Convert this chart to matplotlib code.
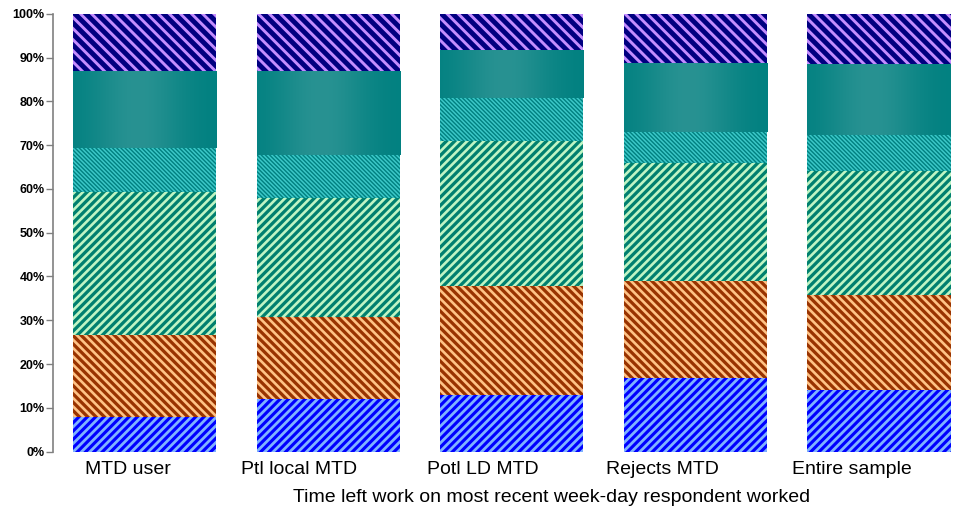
import matplotlib
matplotlib.use('Agg')
import matplotlib.pyplot as plt
import numpy as np
from matplotlib.ticker import PercentFormatter

plt.rcParams['font.family'] = ['Liberation Sans', 'DejaVu Sans']

groups = ['MTD user', 'Ptl local MTD', 'Potl LD MTD', 'Rejects MTD', 'Entire sample']

# share of respondents in each time band (percent), bottom band first
band_1 = [7.9, 12.0, 12.9, 16.9, 14.1]
band_2 = [18.7, 18.7, 25.0, 22.1, 21.6]
band_3 = [32.7, 27.2, 33.1, 26.9, 28.5]
band_4 = [10.1, 9.9, 9.8, 7.1, 8.1]
band_5 = [17.6, 19.2, 11.0, 15.8, 16.3]
band_6 = [13.0, 13.0, 8.2, 11.2, 11.4]

bands = [band_1, band_2, band_3, band_4, band_5, band_6]

# (face colour, stripe colour, hatch, stripe width in pt)
styles = [
    ('#0000ff', '#7fb2ff', '////', 2.0),
    ('#993300', '#ffc285', '\\\\\\\\', 1.9),
    ('#00806f', '#bff5c4', '////', 1.9),
    ('#008080', '#3cc8c8', '\\' * 8, 1.1),
    ('#1a8a8a', '#1a8a8a', None, 0.0),
    ('#000080', '#c48cff', '\\\\\\', 2.1),
]


def with_hatch_width(draw, lw):
    # older versions read the hatch line width from rcParams at draw time
    def _draw(renderer):
        with plt.rc_context({'hatch.linewidth': lw}):
            draw(renderer)
    return _draw


fig = plt.figure(figsize=(9.55, 5.12), dpi=100)
ax = fig.add_axes([53 / 955, 0.118, 1 - 53 / 955, 0.855])

x = np.arange(len(groups))
bottom = np.zeros(len(groups))
containers = []
for vals, (face, stripe, hatch, hlw) in zip(bands, styles):
    vals = np.asarray(vals)
    lw = max(hlw, 0.1)
    with plt.rc_context({'hatch.linewidth': lw}):
        bars = ax.bar(x, vals, width=0.78, bottom=bottom, color=face,
                      edgecolor=stripe, linewidth=0, hatch=hatch, zorder=2)
    if hatch:
        for b in bars:
            if hasattr(b, 'set_hatch_linewidth'):
                b.set_hatch_linewidth(lw)
            b.draw = with_hatch_width(b.draw, lw)
    containers.append(bars)
    bottom = bottom + vals

# shaded cylinder look for the plain teal band
ramp = np.linspace(0, 1, 200)
shade = np.exp(-((ramp - 0.45) / 0.32) ** 2)
dark = np.array([0, 128, 128]) / 255
light = np.array([40, 146, 146]) / 255
grad = dark[None, :] + shade[:, None] * (light - dark)[None, :]
grad = grad[None, :, :]
for b in containers[4]:
    x0, y0 = b.get_x(), b.get_y()
    im = ax.imshow(grad, extent=(x0, x0 + b.get_width(), y0, y0 + b.get_height()),
                   aspect='auto', interpolation='bilinear', zorder=2.5)
    im.set_clip_path(b)

ax.set_xlim(-0.5, (955 - 145) / 183.5)
ax.set_ylim(0, 100)
ax.set_yticks(np.arange(0, 101, 10))
ax.yaxis.set_major_formatter(PercentFormatter(decimals=0))
for lbl in ax.get_yticklabels():
    lbl.set_fontweight('bold')
ax.tick_params(axis='y', labelsize=9, length=5, width=1, color='#808080', pad=1)

# category names sit a little left of each bar
label_shift = [-0.09, -0.16, -0.16, -0.18, -0.15]
ax.set_xticks([])
for xi, name, dx in zip(x, groups, label_shift):
    ax.text(xi + dx, -2.2, name, ha='center', va='top', fontsize=14)

fig.text(552 / 955, 0.012, 'Time left work on most recent week-day respondent worked',
         ha='center', va='bottom', fontsize=14)

for side in ['top', 'right', 'bottom']:
    ax.spines[side].set_visible(False)
ax.spines['left'].set_color('#808080')
ax.spines['left'].set_linewidth(1.2)

plt.savefig('out.png', dpi=100)
plt.close(fig)
